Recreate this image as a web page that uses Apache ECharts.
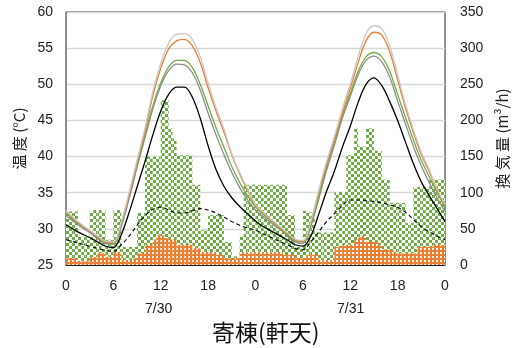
<!DOCTYPE html>
<html>
<head>
<meta charset="utf-8">
<script src="https://cdn.jsdelivr.net/npm/echarts@6/dist/echarts.min.js"></script>
<style>
html,body{margin:0;padding:0;background:#fff;}
#chart{width:515px;height:348px;}
</style>
</head>
<body>
<div id="chart"></div>
<script>
// hours 0..48
var hours = [];
for (var i = 0; i <= 48; i++) hours.push(i);
var xTickLabels = ['0','6','12','18','0','6','12','18','0'];
var dateLabels = ['7/30','7/31'];

var lightGray = [32.5,31.5,30.6,29.8,29.0,28.3,28.2,30.9,35.0,39.5,43.9,49.0,52.9,55.7,56.9,57.0,56.2,53.8,50.2,46.8,43.8,40.4,37.8,35.5,33.4,
 32.3,31.3,30.4,29.5,28.6,28.4,31.0,35.3,39.3,42.8,46.6,50.0,53.8,57.0,58.1,57.7,55.3,51.3,47.2,43.7,40.6,38.2,35.5,33.4];
var orange = [32.4,31.4,30.5,29.7,28.9,28.2,28.1,30.8,34.8,39.2,43.5,48.4,52.2,54.9,56.0,56.2,55.3,53.0,49.5,46.3,43.4,40.2,37.6,35.3,33.3,
 32.2,31.2,30.3,29.4,28.5,28.3,30.9,35.0,38.9,42.4,46.0,49.4,53.0,56.0,57.2,56.8,54.5,50.6,46.7,43.3,40.3,37.9,35.3,33.2];
var green = [32.2,31.3,30.4,29.7,28.9,28.2,28.0,30.6,34.6,38.9,43.0,47.0,50.2,52.4,53.3,53.3,52.3,50.0,47.0,44.0,41.3,38.6,36.4,34.6,33.0,
 32.0,31.1,30.2,29.3,28.4,28.2,30.6,34.5,38.5,42.0,45.7,48.7,51.8,53.8,54.4,53.8,51.8,48.6,45.4,42.3,39.5,37.2,35.0,33.0];
var gray = [31.8,31.0,30.2,29.5,28.7,28.0,27.9,30.3,34.2,38.5,42.6,46.6,49.8,51.9,52.8,52.7,51.6,49.2,46.0,43.0,40.3,37.8,35.7,34.0,32.6,
 31.7,30.8,30.0,29.1,28.2,28.0,30.3,34.1,38.1,41.6,45.3,48.3,51.3,53.3,53.9,53.1,51.0,47.7,44.5,41.4,38.7,36.4,34.3,32.4];
var black = [30.6,29.9,29.3,28.8,28.2,27.6,27.4,29.2,32.3,35.8,39.3,43.0,46.3,48.6,49.6,49.6,48.2,45.3,41.5,38.2,35.9,34.3,33.1,32.1,31.1,
 30.3,29.7,29.1,28.5,27.8,27.6,29.0,32.0,35.2,38.0,41.3,44.2,47.5,50.0,50.9,49.8,47.6,45.0,42.0,39.0,36.5,34.6,32.8,31.0];
var dashed = [28.5,28.2,27.9,27.6,27.3,27.0,26.9,27.8,29.0,30.5,31.8,32.7,33.0,32.6,32.2,32.2,32.5,32.8,32.6,32.2,31.6,31.0,30.5,30.1,29.8,
 29.3,28.8,28.3,27.8,27.3,27.1,28.2,29.6,31.0,32.1,33.2,34.0,34.0,33.9,33.8,33.6,33.3,33.0,32.3,31.3,30.3,29.6,29.0,28.5];

// half-hourly ventilation (m3/h)
var ventGreen = [74,74,74,39,39,39,76,76,76,76,35,35,76,76,25,25,25,25,72,72,150,150,150,150,228,228,189,175,152,152,152,152,111,111,48,48,69,69,69,69,32,32,12,12,40,
 111,111,111,111,111,111,111,111,111,111,111,69,69,25,25,75,73,73,45,45,45,45,45,101,101,101,152,152,189,164,164,189,189,158,158,118,118,86,86,86,86,58,58,108,108,108,108,118,118,118,118];
var ventOrange = [9,9,9,5,5,5,11,11,16,16,11,11,18,18,7,7,7,9,16,16,28,28,35,41,41,37,35,35,28,28,28,28,23,23,18,18,18,18,14,14,9,9,9,9,
 18,18,18,18,18,18,18,18,18,18,18,14,14,14,9,9,9,14,14,14,7,7,7,7,25,25,28,28,28,35,38,41,32,32,32,28,21,21,21,16,16,16,16,16,16,25,25,25,25,28,28,28];

var halfHours = ventGreen.map(function(_, i){ return String(i/2); });

function pairs(arr){ return arr.map(function(v,i){ return [hours[i], v]; }); }

var chart = echarts.init(document.getElementById('chart'), null, {renderer:'canvas'});
var numFont = "'Liberation Sans', Arial, sans-serif";
var jpFont = "'Noto Sans CJK JP', sans-serif";
var lineBase = {type:'line', xAxisIndex:0, yAxisIndex:0, symbol:'none', smooth:0.35, z:5};

chart.setOption({
  animation:false,
  grid:{left:66, right:70, top:12, bottom:83, outerBoundsMode:'none', containLabel:false,
        show:true, borderColor:'#222', borderWidth:1, backgroundColor:'transparent'},
  xAxis:[
    {type:'value', min:0, max:48, interval:6,
     axisLine:{show:true, lineStyle:{color:'#222', width:1}},
     axisTick:{show:false}, splitLine:{show:false},
     axisLabel:{color:'#222', fontSize:14, fontFamily:numFont, margin:14,
       formatter:function(v){ return xTickLabels[Math.round(v/6)]; }}},
    {type:'category', data:halfHours, boundaryGap:true, show:false}
  ],
  yAxis:[
    {type:'value', min:25, max:60, interval:5, position:'left',
     name:'温 度 (°C)', nameLocation:'middle', nameRotate:90, nameGap:36,
     nameTextStyle:{color:'#222', fontSize:15, fontFamily:jpFont},
     axisLine:{show:true, lineStyle:{color:'#888'}}, axisTick:{show:false},
     splitLine:{show:true, lineStyle:{color:'#d9d9d9', width:1.3}},
     axisLabel:{color:'#222', fontSize:14, fontFamily:numFont, margin:13}},
    {type:'value', min:0, max:350, interval:50, position:'right',
     name:'換 気 量 (m³/h)', nameLocation:'middle', nameRotate:90, nameGap:50,
     nameTextStyle:{color:'#222', fontSize:15, fontFamily:jpFont},
     axisLine:{show:false}, axisTick:{show:false}, splitLine:{show:false},
     axisLabel:{color:'#222', fontSize:14, fontFamily:numFont, margin:15}}
  ],
  series:[
    {type:'bar', xAxisIndex:1, yAxisIndex:1, data:ventGreen, barCategoryGap:0, barGap:'-100%', z:2,
     itemStyle:{color:'#ffffff', decal:{symbol:'rect', symbolSize:1, color:'#6aab3f',
       dashArrayX:[[3,3],[0,3,3,0]], dashArrayY:[3,0]}}},
    {type:'bar', xAxisIndex:1, yAxisIndex:1, data:ventOrange, barCategoryGap:0, barGap:'-100%', z:3,
     itemStyle:{color:'#ED7D31', decal:{symbol:'rect', symbolSize:1, color:'#ffffff',
       dashArrayX:[2,2], dashArrayY:[2,2]}}},
    Object.assign({}, lineBase, {data:pairs(dashed), lineStyle:{color:'#000', width:1.1, type:[4,3]}}),
    Object.assign({}, lineBase, {data:pairs(black), lineStyle:{color:'#000', width:1.3}}),
    Object.assign({}, lineBase, {data:pairs(gray), lineStyle:{color:'#8c8c8c', width:1.3}}),
    Object.assign({}, lineBase, {data:pairs(green), lineStyle:{color:'#70AD47', width:1.3}}),
    Object.assign({}, lineBase, {data:pairs(orange), lineStyle:{color:'#ED7D31', width:1.3}}),
    Object.assign({}, lineBase, {data:pairs(lightGray), lineStyle:{color:'#c9c9c9', width:1.3}})
  ],
  graphic:[
    {type:'text', left:145, top:302, style:{text:dateLabels[0], fill:'#222', font:"14px 'Liberation Sans', Arial, sans-serif"}},
    {type:'text', left:337, top:302, style:{text:dateLabels[1], fill:'#222', font:"14px 'Liberation Sans', Arial, sans-serif"}},
    {type:'text', left:212, top:321, style:{text:'寄棟(軒天)', fill:'#111', font:"23px 'Noto Sans CJK JP', sans-serif"}}
  ]
});
</script>
</body>
</html>
